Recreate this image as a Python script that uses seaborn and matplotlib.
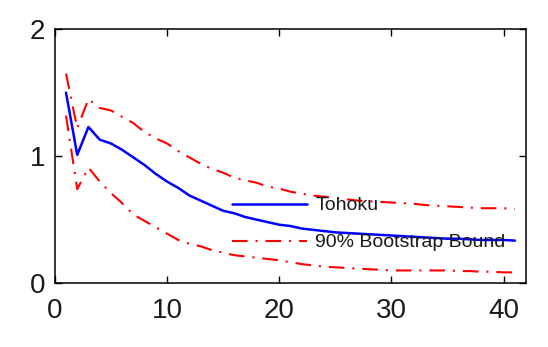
import numpy as np
import pandas as pd
import seaborn as sns
import matplotlib
matplotlib.use("Agg")
import matplotlib.pyplot as plt
from matplotlib.lines import Line2D

# Impulse response horizon
horizon = list(range(1, 42))

# Point estimate (Tohoku)
tohoku = [1.50, 1.01, 1.23, 1.13, 1.10, 1.05, 0.99, 0.93, 0.86, 0.80,
          0.75, 0.69, 0.65, 0.61, 0.57, 0.55, 0.52, 0.50, 0.48, 0.46,
          0.45, 0.43, 0.42, 0.41, 0.40, 0.395, 0.39, 0.385, 0.38, 0.375,
          0.37, 0.365, 0.36, 0.355, 0.35, 0.35, 0.345, 0.34, 0.34, 0.34, 0.335]

# 90% bootstrap bounds
upper = [1.65, 1.22, 1.45, 1.38, 1.36, 1.31, 1.26, 1.19, 1.14, 1.10,
         1.04, 0.99, 0.94, 0.90, 0.87, 0.83, 0.81, 0.79, 0.76, 0.745,
         0.72, 0.705, 0.69, 0.68, 0.67, 0.66, 0.65, 0.645, 0.64, 0.635,
         0.63, 0.625, 0.615, 0.61, 0.605, 0.60, 0.595, 0.59, 0.59, 0.59, 0.585]
lower = [1.32, 0.74, 0.91, 0.80, 0.71, 0.63, 0.54, 0.49, 0.44, 0.39,
         0.34, 0.31, 0.29, 0.26, 0.24, 0.22, 0.21, 0.20, 0.19, 0.18,
         0.165, 0.15, 0.14, 0.13, 0.125, 0.12, 0.115, 0.11, 0.105, 0.10,
         0.10, 0.10, 0.10, 0.10, 0.10, 0.095, 0.095, 0.09, 0.09, 0.085, 0.085]

legend_labels = ["Tohoku", "90% Bootstrap Bound"]
x_ticks = [0, 10, 20, 30, 40]
y_ticks = [0, 1, 2]

sns.set_theme(style="white")
plt.rcParams["font.family"] = ["Liberation Sans", "DejaVu Sans"]

fig = plt.figure(figsize=(5.48, 3.47), dpi=100)
ax = fig.add_axes([0.100, 0.184, 0.860, 0.732])

df = pd.DataFrame({"h": horizon, "tohoku": tohoku, "upper": upper, "lower": lower})

dashdot = (0, (7.5, 3.8, 1.0, 3.8))
sns.lineplot(data=df, x="h", y="upper", ax=ax, color="#ff0000", lw=1.5,
             linestyle=dashdot)
sns.lineplot(data=df, x="h", y="lower", ax=ax, color="#ff0000", lw=1.5,
             linestyle=dashdot)
sns.lineplot(data=df, x="h", y="tohoku", ax=ax, color="#0000ff", lw=1.8)

ax.set_xlim(0, 42)
ax.set_ylim(0, 2)
ax.set_xticks(x_ticks)
ax.set_yticks(y_ticks)
ax.set_xlabel("")
ax.set_ylabel("")

for s in ax.spines.values():
    s.set_visible(True)
    s.set_color("black")
    s.set_linewidth(1.1)

ax.tick_params(direction="in", length=5, width=1.0, color="black",
               top=True, right=True, bottom=True, left=True,
               labelsize=20, labelcolor="#1a1a1a")
ax.tick_params(axis="x", pad=11)
ax.tick_params(axis="y", pad=7)

handles = [Line2D([], [], color="#0000ff", lw=1.8),
           Line2D([], [], color="#ff0000", lw=1.5, linestyle=dashdot)]
leg = ax.legend(handles, legend_labels, loc="upper left",
                bbox_to_anchor=(0.375, 0.34), frameon=False, fontsize=14,
                handlelength=3.9, handletextpad=0.4, labelspacing=1.0,
                borderaxespad=0, borderpad=0)
for t in leg.get_texts():
    t.set_color("#1a1a1a")

fig.savefig("out.png", dpi=100)
